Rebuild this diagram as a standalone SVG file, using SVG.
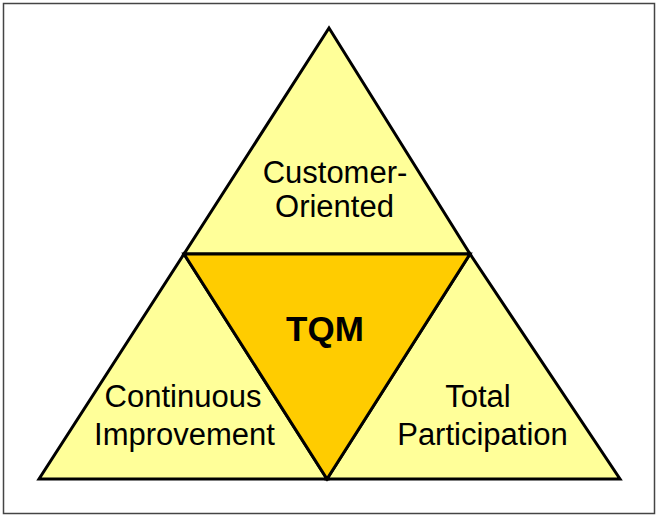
<svg xmlns="http://www.w3.org/2000/svg" width="657" height="518" viewBox="0 0 657 518">
<style>
.lbl{font-family:"Liberation Sans",Arial,sans-serif;font-size:31px;fill:#000;text-anchor:middle}
.tqm{font-family:"Liberation Sans",Arial,sans-serif;font-size:35px;font-weight:bold;fill:#000;text-anchor:middle}
.tri{fill:#FFFF99;stroke:#000;stroke-width:3;stroke-linejoin:miter}
.core{fill:#FFCC00;stroke:#000;stroke-width:3;stroke-linejoin:miter}
</style>
<rect x="3.5" y="3.5" width="651" height="510" fill="#fff" stroke="#444" stroke-width="1.5"/>
<g id="customer-oriented">
<polygon class="tri" points="329,28 184,254 470,254"/>
<text class="lbl" x="335" y="183">Customer-</text>
<text class="lbl" x="334.5" y="217">Oriented</text>
</g>
<g id="continuous-improvement">
<polygon class="tri" points="184,254 39,479 327,479"/>
<text class="lbl" x="183" y="407">Continuous</text>
<text class="lbl" x="184.5" y="445">Improvement</text>
</g>
<g id="total-participation">
<polygon class="tri" points="470,254 327,479 620,479"/>
<text class="lbl" x="478" y="407">Total</text>
<text class="lbl" x="482.5" y="445">Participation</text>
</g>
<g id="tqm">
<polygon class="core" points="184,254 470,254 327,479"/>
<text class="tqm" x="325" y="341">TQM</text>
</g>
<g id="connectors"></g>
</svg>
